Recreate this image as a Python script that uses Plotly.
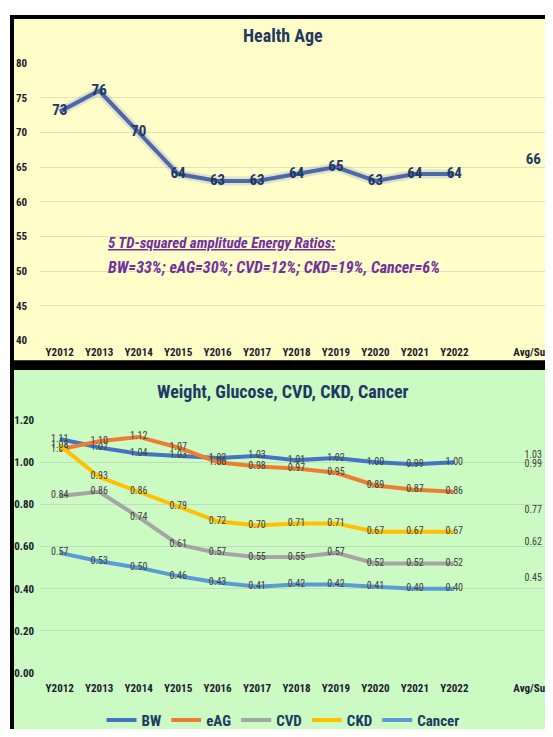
import plotly.graph_objects as go

# ---------------- data ----------------
years = ["Y2012", "Y2013", "Y2014", "Y2015", "Y2016", "Y2017", "Y2018",
         "Y2019", "Y2020", "Y2021", "Y2022"]
avg_label = "Avg/Sum"
tick_labels = years + ["", avg_label]

health_age = [73, 76, 70, 64, 63, 63, 64, 65, 63, 64, 64]
health_age_avg = 66

series_names = ["BW", "eAG", "CVD", "CKD", "Cancer"]
bw = [1.11, 1.07, 1.04, 1.03, 1.02, 1.03, 1.01, 1.02, 1.00, 0.99, 1.00]
eag = [1.06, 1.10, 1.12, 1.07, 1.00, 0.98, 0.97, 0.95, 0.89, 0.87, 0.86]
cvd = [0.84, 0.86, 0.74, 0.61, 0.57, 0.55, 0.55, 0.57, 0.52, 0.52, 0.52]
ckd = [1.08, 0.93, 0.86, 0.79, 0.72, 0.70, 0.71, 0.71, 0.67, 0.67, 0.67]
cancer = [0.57, 0.53, 0.50, 0.46, 0.43, 0.41, 0.42, 0.42, 0.41, 0.40, 0.40]
series_avgs = [1.03, 0.99, 0.62, 0.77, 0.45]

series_values = [bw, eag, cvd, ckd, cancer]
series_colors = ["#4472C4", "#ED7D31", "#A5A5A5", "#FFC000", "#5B9BD5"]

x_years = list(range(len(years)))
x_avg = len(tick_labels) - 1

FONT = "Liberation Sans Narrow, Roboto Condensed, Open Sans, sans-serif"
NAVY = "#1F3864"
OFF = 8                      # page body margin
W, H = 553 - OFF, 737 - OFF  # figure size


def px(p):
    return (p - OFF) / W


def py(p):
    return 1 - (p - OFF) / H


fig = go.Figure()

# ---------------- top chart ----------------
fig.add_trace(go.Scatter(
    x=x_years, y=health_age, mode="lines", showlegend=False,
    line=dict(color="rgba(80,100,190,0.18)", width=9), hoverinfo="skip",
    xaxis="x", yaxis="y"))
fig.add_trace(go.Scatter(
    x=x_years, y=health_age, mode="lines+text", showlegend=False,
    line=dict(color="#4E67A8", width=4),
    text=[str(v) for v in health_age], textposition="middle center",
    textfont=dict(family=FONT, size=15, color=NAVY, weight="bold"),
    xaxis="x", yaxis="y"))
fig.add_trace(go.Scatter(
    x=[x_avg], y=[health_age_avg], mode="text", showlegend=False,
    text=[str(health_age_avg)], textposition="middle center",
    textfont=dict(family=FONT, size=15, color=NAVY, weight="bold"),
    xaxis="x", yaxis="y"))

# ---------------- bottom chart ----------------
for name, vals, col in zip(series_names, series_values, series_colors):
    fig.add_trace(go.Scatter(
        x=x_years, y=vals, mode="lines+text", name=name,
        line=dict(color=col, width=4),
        text=[f"{v:.2f}" for v in vals], textposition="middle center",
        textfont=dict(family=FONT, size=10, color="#404040"),
        xaxis="x2", yaxis="y2"))
fig.add_trace(go.Scatter(
    x=[x_avg] * len(series_avgs), y=series_avgs, mode="text", showlegend=False,
    text=[f"{v:.2f}" for v in series_avgs], textposition="middle center",
    textfont=dict(family=FONT, size=10, color="#404040"),
    xaxis="x2", yaxis="y2"))

# ---------------- layout ----------------
xdom = [px(40), 1]
common_x = dict(
    range=[-0.5, len(tick_labels) - 0.5], tickmode="array",
    tickvals=list(range(len(tick_labels))), ticktext=tick_labels,
    showgrid=False, zeroline=False, showline=False, ticks="",
    ticklabeloverflow="allow",
    tickfont=dict(family=FONT, size=11, color="#1a1a2e", weight="bold"),
    domain=xdom)

fig.update_layout(
    width=W, height=H,
    margin=dict(l=0, r=0, t=0, b=0),
    paper_bgcolor="white", plot_bgcolor="rgba(0,0,0,0)",
    xaxis=dict(**common_x, anchor="y", ticklabelstandoff=3),
    yaxis=dict(domain=[py(341), py(58)], range=[40, 80], dtick=5,
               showgrid=True, gridcolor="rgba(190,190,170,0.45)", zeroline=False,
               tickfont=dict(family=FONT, size=11, color="#1a1a2e", weight="bold"),
               ticklabelstandoff=12, anchor="x"),
    xaxis2=dict(**common_x, anchor="y2", ticklabelstandoff=7),
    yaxis2=dict(domain=[py(680), py(422)], range=[0, 1.2], dtick=0.2,
                tickformat=".2f", showgrid=True, gridcolor="rgba(170,200,170,0.5)",
                zeroline=False,
                tickfont=dict(family=FONT, size=11, color="#1a1a2e", weight="bold"),
                ticklabelstandoff=5, anchor="x2"),
    legend=dict(orientation="h", x=px(283), xanchor="center",
                y=py(728), yanchor="middle",
                font=dict(family=FONT, size=15, color=NAVY, weight="bold"),
                bgcolor="rgba(0,0,0,0)", itemwidth=30, tracegroupgap=0),
    showlegend=True,
    shapes=[
        dict(type="rect", xref="paper", yref="paper", layer="below",
             x0=px(10), x1=1, y0=0, y1=py(9),
             fillcolor="black", line=dict(width=0)),
        dict(type="rect", xref="paper", yref="paper", layer="below",
             x0=px(14), x1=1, y0=py(361), y1=py(13),
             fillcolor="#FFFEC8", line=dict(width=0)),
        dict(type="rect", xref="paper", yref="paper", layer="below",
             x0=px(14), x1=1, y0=0, y1=py(371),
             fillcolor="#CBFAC2", line=dict(width=0)),
    ],
    annotations=[
        dict(text="Health Age", xref="paper", yref="paper",
             x=px(283), y=py(30), xanchor="center", yanchor="middle",
             showarrow=False,
             font=dict(family=FONT, size=18, color=NAVY, weight="bold")),
        dict(text="Weight, Glucose, CVD, CKD, Cancer", xref="paper", yref="paper",
             x=px(283), y=py(393), xanchor="center", yanchor="middle",
             showarrow=False,
             font=dict(family=FONT, size=18, color=NAVY, weight="bold")),
        dict(text="<i><u>5 TD-squared amplitude Energy Ratios:</u></i>",
             xref="paper", yref="paper", x=px(106), y=py(241),
             xanchor="left", yanchor="middle", showarrow=False,
             font=dict(family=FONT, size=15, color="#7030A0", weight="bold")),
        dict(text="<i>BW=33%; eAG=30%; CVD=12%; CKD=19%, Cancer=6%</i>",
             xref="paper", yref="paper", x=px(106), y=py(266),
             xanchor="left", yanchor="middle", showarrow=False,
             font=dict(family=FONT, size=16, color="#7030A0", weight="bold")),
    ],
)

fig.write_html("out.html")
